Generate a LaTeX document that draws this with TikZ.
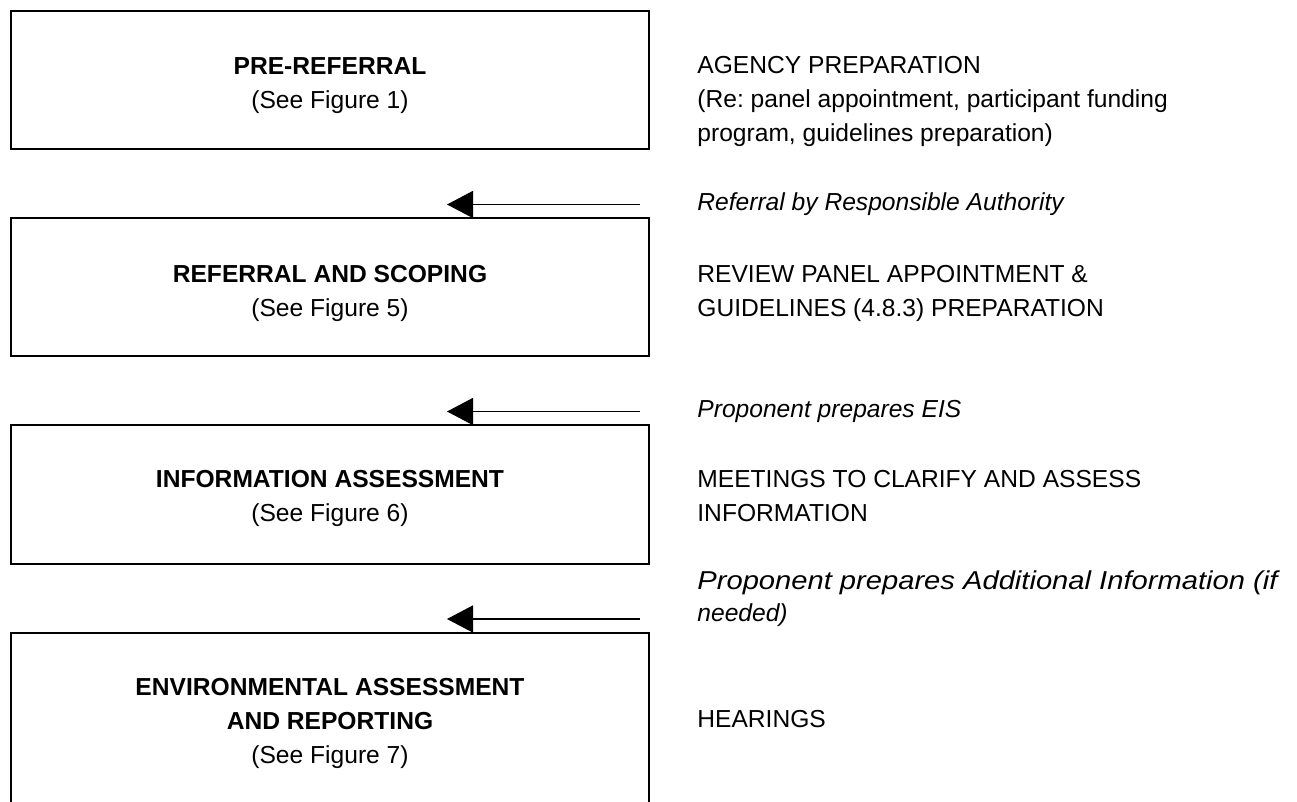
\documentclass[tikz,border=0pt]{standalone}
\usepackage{graphicx}
\usepackage{fontspec}
\setmainfont{Liberation Sans}
\usetikzlibrary{arrows.meta,calc}
\frenchspacing
\begin{document}
\begin{tikzpicture}[x=0.5pt,y=-0.5pt,
  stage/.style={draw, line width=1pt, minimum width=319pt, minimum height=69pt, inner sep=0pt, outer sep=0pt},
  title/.style={anchor=base, align=center, inner sep=0pt, font=\fontsize{12.3}{17}\selectfont},
  note/.style={anchor=base west, align=left, inner sep=0pt, font=\fontsize{12.3}{17}\selectfont},
  flow/.style={-{Triangle[length=13pt,width=13.5pt]}, line width=0.7pt}]
\useasboundingbox (0,0) rectangle (1297,802);
\clip (0,0) rectangle (1297,802);

% stage boxes
\node[stage] (b1) at (330,80) {};
\node[stage] (b2) at (330,287.5) {};
\node[stage] (b3) at (330,494.5) {};
\node[stage, minimum height=100pt] (b4) at (330,733) {};

% titles inside boxes (anchor = baseline of the last line)
\node[title] (t1) at ($(b1.north)+(0,98)$) {\textbf{PRE-REFERRAL}\\(See Figure 1)};
\node[title] (t2) at ($(b2.north)+(0,98)$) {\textbf{REFERRAL AND SCOPING}\\(See Figure 5)};
\node[title] (t3) at ($(b3.north)+(0,96)$) {\textbf{INFORMATION ASSESSMENT}\\(See Figure 6)};
\node[title] (t4) at ($(b4.north)+(0,130)$) {\textbf{ENVIRONMENTAL ASSESSMENT}\\\textbf{AND REPORTING}\\(See Figure 7)};

% activity notes on the right
\node[note] (n1) at ($(b1.north east)+(48,131)$) {AGENCY PREPARATION\\(Re: panel appointment, participant funding\\program, guidelines preparation)};
\node[note] (n2) at ($(b2.north east)+(48,98)$) {REVIEW PANEL APPOINTMENT \&\\GUIDELINES (4.8.3) PREPARATION};
\node[note] (n3) at ($(b3.north east)+(48,96)$) {MEETINGS TO CLARIFY AND ASSESS\\INFORMATION};
\node[note] (n4) at ($(b4.north east)+(48,94)$) {HEARINGS};

% transitions
\coordinate (s1) at ($(b2.north east)+(-9,-14)$);
\coordinate (e1) at ($(b2.north)+(117,-14)$);
\coordinate (s2) at ($(b3.north east)+(-9,-14)$);
\coordinate (e2) at ($(b3.north)+(117,-14)$);
\coordinate (s3) at ($(b4.north east)+(-9,-14)$);
\coordinate (e3) at ($(b4.north)+(117,-14)$);
\draw[flow] (s1) -- (e1);
\draw[flow] (s2) -- (e2);
\draw[flow] (s3) -- (e3);

\node[note, font=\fontsize{12.3}{17}\selectfont\itshape] (l1) at ($(b2.north east)+(48,-8)$) {Referral by Responsible Authority};
\node[note, font=\fontsize{12.3}{17}\selectfont\itshape] (l2) at ($(b3.north east)+(48,-8)$) {Proponent prepares EIS};
\node[note, font=\fontsize{12.3}{16}\selectfont\itshape] (l3) at ($(b4.north east)+(48,-12)$) {\scalebox{1.185}[1.05]{Proponent prepares Additional Information (if}\\needed)};
\end{tikzpicture}
\end{document}
